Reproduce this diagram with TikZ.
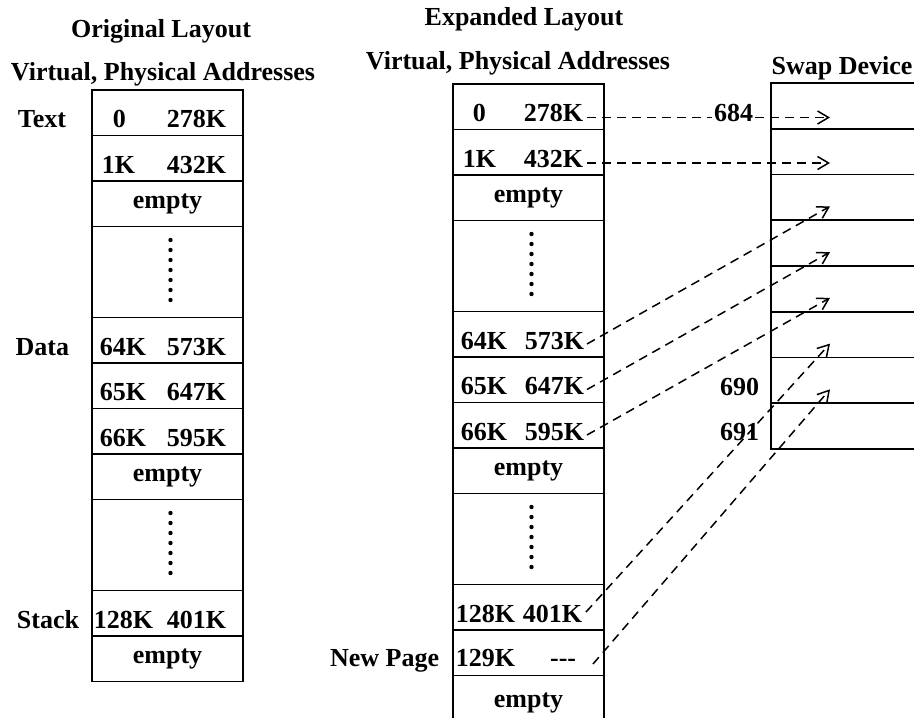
\documentclass[tikz,border=0pt]{standalone}
\usepackage{fontspec}
\setmainfont{Liberation Serif}
\usetikzlibrary{arrows.meta}

\begin{document}
\begin{tikzpicture}
    	[x=1pt, y=-1pt, line width=1.8pt,
    	 every node/.style={font=\fontsize{26}{30}\selectfont\bfseries},
    	 cell/.style={draw, minimum width=151pt, minimum height=45.5pt, inner sep=0pt},
    	 tall/.style={cell, minimum height=91pt},
    	 slot/.style={draw, anchor=west, minimum width=160pt, minimum height=45.75pt, inner sep=0pt},
    	 virt/.style={anchor=base west, inner sep=0pt},
    	 phys/.style={anchor=base east, inner sep=0pt},
    	 head/.style={anchor=base, inner sep=0pt},
    	 dashln/.style={line width=1.5pt, dash pattern=on 9pt off 6pt},
    	 arr/.style={dashln, -{Straight Barb[length=11pt, width=13pt, line width=1.5pt]}}]
    	\useasboundingbox (0,0) rectangle (914,718);

    	\node (h1) at (161,37) [head] {Original Layout};
    	\node (h2) at (163,80) [head] {Virtual, Physical Addresses};
    	\node (h3) at (524,25) [head] {Expanded Layout};
    	\node (h4) at (518,69) [head] {Virtual, Physical Addresses};
    	\node (h5) at (842,74) [head] {Swap Device};

    	\node (L1) at (167.5,112.75) [cell] {};
    	\node (L2) at (167.5,158.25) [cell] {};
    	\node (L3) at (167.5,203.75) [cell] {empty};
    	\node (L4) at (167.5,272) [tall] {};
    	\node (L5) at (167.5,340.25) [cell] {};
    	\node (L6) at (167.5,385.75) [cell] {};
    	\node (L7) at (167.5,431.25) [cell] {};
    	\node (L8) at (167.5,476.75) [cell] {empty};
    	\node (L9) at (167.5,545) [tall] {};
    	\node (L10) at (167.5,613.25) [cell] {};
    	\node (L11) at (167.5,658.75) [cell] {empty};

    	\node (L1v) at (112,127.5) [virt] {0};
    	\node (L1p) at (227,127.5) [phys] {278K};
    	\node (L2v) at (101,173) [virt] {1K};
    	\node (L2p) at (227,173) [phys] {432K};
    	\node (L5v) at (99,355) [virt] {64K};
    	\node (L5p) at (227,355) [phys] {573K};
    	\node (L6v) at (99,400.5) [virt] {65K};
    	\node (L6p) at (227,400.5) [phys] {647K};
    	\node (L7v) at (99,446) [virt] {66K};
    	\node (L7p) at (227,446) [phys] {595K};
    	\node (L10v) at (93,628) [virt] {128K};
    	\node (L10p) at (227,628) [phys] {401K};

    	\node (text) at (67,127.5) [phys] {Text};
    	\node (data) at (70,355) [phys] {Data};
    	\node (stack) at (80,628) [phys] {Stack};
    	\node (newpage) at (440,666) [phys] {New Page};

    	\node (M1) at (528.5,106.75) [cell] {};
    	\node (M2) at (528.5,152.25) [cell] {};
    	\node (M3) at (528.5,197.75) [cell] {empty};
    	\node (M4) at (528.5,266) [tall] {};
    	\node (M5) at (528.5,334.25) [cell] {};
    	\node (M6) at (528.5,379.75) [cell] {};
    	\node (M7) at (528.5,425.25) [cell] {};
    	\node (M8) at (528.5,470.75) [cell] {empty};
    	\node (M9) at (528.5,539) [tall] {};
    	\node (M10) at (528.5,607.25) [cell] {};
    	\node (M11) at (528.5,652.75) [cell] {};
    	\node (M12) at (528.5,703) [cell, minimum height=55pt] {empty};

    	\node (M1v) at (472,121.5) [virt] {0};
    	\node (M1p) at (584,121.5) [phys] {278K};
    	\node (M2v) at (462,167) [virt] {1K};
    	\node (M2p) at (584,167) [phys] {432K};
    	\node (M5v) at (460,349) [virt] {64K};
    	\node (M5p) at (585,349) [phys] {573K};
    	\node (M6v) at (460,394.5) [virt] {65K};
    	\node (M6p) at (585,394.5) [phys] {647K};
    	\node (M7v) at (460,440) [virt] {66K};
    	\node (M7p) at (585,440) [phys] {595K};
    	\node (M10v) at (455,622) [virt] {128K};
    	\node (M10p) at (583,622) [phys] {401K};
    	\node (M11v) at (455,666) [virt] {129K};
    	\node (M11p) at (577,666) [phys] {-{}-{}-};

    	\foreach \c in {L4,L9,M4,M9}
    	    \foreach \k in {-3,...,3}
    	        \fill ([xshift=3pt, yshift={\k*10pt+2pt}]\c) circle (2.2pt);

    	\node (S1) at (770,105.875) [slot] {};
    	\node (S2) at (770,151.625) [slot] {};
    	\node (S3) at (770,197.375) [slot] {};
    	\node (S4) at (770,243.125) [slot] {};
    	\node (S5) at (770,288.875) [slot] {};
    	\node (S6) at (770,334.625) [slot] {};
    	\node (S7) at (770,380.375) [slot] {};
    	\node (S8) at (770,426.125) [slot] {};

    	\node (n684) at (755,121) [phys, inner sep=1pt] {684};
    	\node (n690) at (760,395) [phys] {690};
    	\node (n691) at (760,440) [phys] {691};

    	\coordinate (s1) at ([xshift=3pt, yshift=4pt]M1p.base east);
    	\coordinate (s2) at ([xshift=3pt, yshift=4pt]M2p.base east);
    	\coordinate (s3) at ([xshift=2pt, yshift=5pt]M5p.base east);
    	\coordinate (s4) at ([xshift=2pt, yshift=5pt]M6p.base east);
    	\coordinate (s5) at ([xshift=2pt, yshift=5pt]M7p.base east);
    	\coordinate (s6) at ([xshift=3pt, yshift=10pt]M10p.base east);
    	\coordinate (s7) at ([xshift=16pt, yshift=2pt]M11p.base east);
    	\coordinate (t1) at ([xshift=60pt, yshift=-9pt]S1.west);
    	\coordinate (t2) at ([xshift=60pt, yshift=-9pt]S2.west);
    	\coordinate (t3) at ([xshift=60pt, yshift=-9pt]S3.west);
    	\coordinate (t4) at ([xshift=60pt, yshift=-9pt]S4.west);
    	\coordinate (t5) at ([xshift=60pt, yshift=-9pt]S5.west);
    	\coordinate (t6) at ([xshift=60pt, yshift=-9pt]S6.west);
    	\coordinate (t7) at ([xshift=60pt, yshift=-9pt]S7.west);

    	\draw[dashln] (s1) -- (s1 -| n684.west);
    	\draw[arr] (s1 -| n684.east) -- (s1 -| t1);
    	\draw[arr] (s2) -- (s2 -| t2);
    	\draw[arr] (s3) -- (t3);
    	\draw[arr] (s4) -- (t4);
    	\draw[arr] (s5) -- (t5);
    	\draw[arr] (s6) -- (t6);
    	\draw[arr] (s7) -- (t7);
\end{tikzpicture}
\end{document}
